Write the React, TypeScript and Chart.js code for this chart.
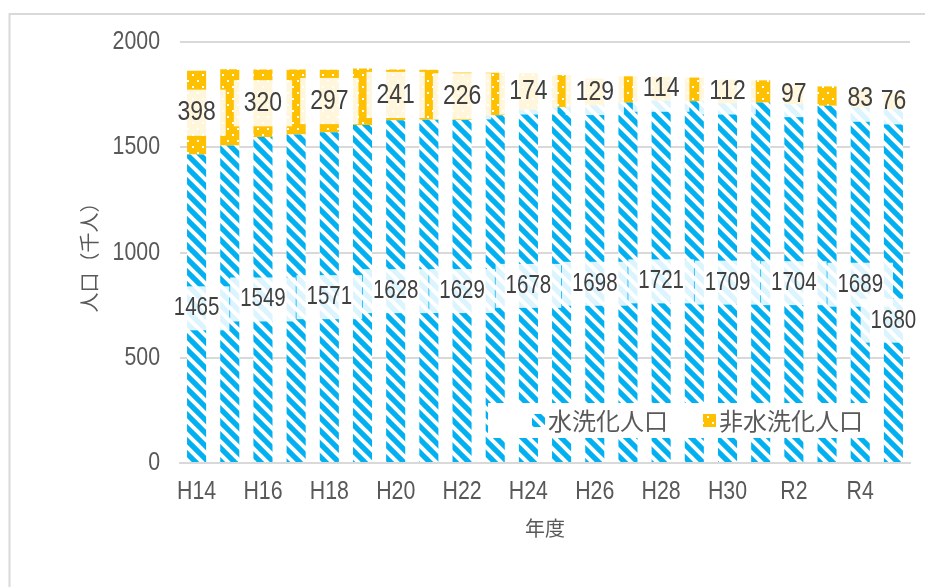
import React, { useEffect, useRef } from 'react';
import { Chart, registerables } from 'chart.js';

Chart.register(...registerables);

const years = [
  'H14', 'H15', 'H16', 'H17', 'H18', 'H19', 'H20', 'H21', 'H22', 'H23', 'H24',
  'H25', 'H26', 'H27', 'H28', 'H29', 'H30', 'R1', 'R2', 'R3', 'R4', 'R5',
];
const sewered = [
  1465, 1508, 1549, 1560, 1571, 1606, 1628, 1631, 1629, 1652, 1678,
  1690, 1698, 1712, 1721, 1718, 1709, 1712, 1704, 1697, 1689, 1680,
];
const unsewered = [
  398, 362, 320, 309, 297, 268, 241, 237, 226, 202, 174,
  153, 129, 125, 114, 113, 112, 106, 97, 92, 83, 76,
];
const seriesNames = ['水洗化人口', '非水洗化人口'];
const yMin = 0;
const yMax = 2000;
const yStep = 500;
const yTitle = '人口（千人）';
const xTitle = '年度';

const BLUE = '#00B0F0';
const ORANGE = '#FFC000';
const TEXT = '#595959';
const LABEL_TEXT = '#404040';
const GRID = '#d9d9d9';
const NUM_FONT = '"Liberation Sans", Arial, sans-serif';
const CJK_FONT = '"Noto Sans CJK JP", "Noto Sans", sans-serif';
const NARROW = 0.82;

function makeStripe(ctx: CanvasRenderingContext2D) {
  const s = 13;
  const c = document.createElement('canvas');
  c.width = s;
  c.height = s;
  const g = c.getContext('2d')!;
  g.fillStyle = BLUE;
  g.fillRect(0, 0, s, s);
  g.strokeStyle = '#ffffff';
  g.lineWidth = 4;
  g.beginPath();
  for (const k of [-s, 0, s]) {
    g.moveTo(k - 3, -3);
    g.lineTo(k + s + 3, s + 3);
  }
  g.stroke();
  return ctx.createPattern(c, 'repeat')!;
}

function makeDots(ctx: CanvasRenderingContext2D) {
  const w = 10;
  const h = 12;
  const c = document.createElement('canvas');
  c.width = w;
  c.height = h;
  const g = c.getContext('2d')!;
  g.fillStyle = ORANGE;
  g.fillRect(0, 0, w, h);
  g.fillStyle = '#ffffff';
  g.fillRect(2, 2, 2, 2);
  g.fillRect(7, 8, 2, 2);
  return ctx.createPattern(c, 'repeat')!;
}

function narrowText(ctx: CanvasRenderingContext2D, text: string, x: number, y: number, align: CanvasTextAlign) {
  ctx.save();
  ctx.translate(x, y);
  ctx.scale(NARROW, 1);
  ctx.textAlign = align;
  ctx.textBaseline = 'middle';
  ctx.fillText(text, 0, 0);
  ctx.restore();
}

const framePlugin = {
  id: 'frame',
  beforeDraw(chart: any) {
    const ctx = chart.ctx;
    ctx.save();
    ctx.strokeStyle = GRID;
    ctx.lineWidth = 2;
    ctx.beginPath();
    ctx.moveTo(9.5, chart.height);
    ctx.lineTo(9.5, 14);
    ctx.lineTo(chart.width, 14);
    ctx.stroke();
    ctx.restore();
  },
};

const tickPlugin = {
  id: 'narrowTicks',
  afterDraw(chart: any) {
    const ctx = chart.ctx;
    const area = chart.chartArea;
    const ys = chart.scales.y;
    const xs = chart.scales.x;
    ctx.save();
    ctx.fillStyle = TEXT;
    ctx.font = `26px ${NUM_FONT}`;
    ys.ticks.forEach((t: any) => {
      narrowText(ctx, String(t.value), area.left - 20, ys.getPixelForValue(t.value), 'right');
    });
    years.forEach((lab, i) => {
      if (i % 2 !== 0) return;
      narrowText(ctx, lab, xs.getPixelForValue(i), area.bottom + 29, 'center');
    });
    ctx.restore();
  },
};

const labelPlugin = {
  id: 'barLabels',
  afterDatasetsDraw(chart: any) {
    const ctx = chart.ctx;
    const n = years.length;
    const items: any[] = [];
    chart.data.datasets.forEach((ds: any, di: number) => {
      const meta = chart.getDatasetMeta(di);
      meta.data.forEach((el: any, i: number) => {
        if (!(i % 2 === 0 || i === n - 1)) return;
        const { x, y, base } = el.getProps(['x', 'y', 'base'], true);
        let cy = (y + base) / 2;
        if (di === 0 && i === n - 1) cy += 35;
        const fs = di === 0 ? 25 : 28;
        items.push({ x, cy, fs, text: String(ds.data[i]) });
      });
    });
    ctx.save();
    items.forEach((it) => {
      ctx.font = `${it.fs}px ${NUM_FONT}`;
      const w = ctx.measureText(it.text).width * NARROW;
      const bw = w + 20;
      const bh = it.fs * 0.72 + 26;
      ctx.fillStyle = 'rgba(255,255,255,0.86)';
      ctx.fillRect(it.x - bw / 2, it.cy - bh / 2, bw, bh);
    });
    ctx.fillStyle = LABEL_TEXT;
    items.forEach((it) => {
      ctx.font = `${it.fs}px ${NUM_FONT}`;
      narrowText(ctx, it.text, it.x, it.cy, 'center');
    });
    ctx.restore();
  },
};

const legendPlugin = {
  id: 'innerLegend',
  afterDraw(chart: any) {
    const ctx = chart.ctx;
    ctx.save();
    ctx.fillStyle = '#ffffff';
    ctx.fillRect(488, 403, 395, 35);
    ctx.font = `24px ${CJK_FONT}`;
    ctx.textBaseline = 'middle';
    ctx.textAlign = 'left';
    let x = 532;
    const cy = 420.5;
    chart.data.datasets.forEach((ds: any) => {
      ctx.fillStyle = ds.backgroundColor;
      ctx.fillRect(x, cy - 6.5, 13, 13);
      ctx.fillStyle = TEXT;
      ctx.fillText(ds.label, x + 16, cy);
      x += 16 + ctx.measureText(ds.label).width + 35;
    });
    ctx.restore();
  },
};

export default function App() {
  const ref = useRef<HTMLCanvasElement | null>(null);

  useEffect(() => {
    const canvas = ref.current!;
    const ctx = canvas.getContext('2d')!;
    const stripe = makeStripe(ctx);
    const dots = makeDots(ctx);
    const chart = new Chart(canvas, {
      type: 'bar',
      data: {
        labels: years,
        datasets: [
          {
            label: seriesNames[0],
            data: sewered,
            backgroundColor: stripe as any,
            borderWidth: 0,
            categoryPercentage: 1,
            barPercentage: 0.575,
          },
          {
            label: seriesNames[1],
            data: unsewered,
            backgroundColor: dots as any,
            borderWidth: 0,
            categoryPercentage: 1,
            barPercentage: 0.575,
          },
        ],
      },
      options: {
        responsive: false,
        animation: false,
        layout: { padding: { left: 0, right: 15, top: 42, bottom: 0 } },
        plugins: {
          legend: { display: false },
          tooltip: { enabled: false },
        },
        scales: {
          x: {
            stacked: true,
            grid: { display: false, drawTicks: false },
            border: { display: true, color: GRID, width: 2 },
            ticks: { display: false, autoSkip: false },
            title: {
              display: true,
              text: xTitle,
              color: TEXT,
              font: { family: CJK_FONT, size: 20 },
              padding: { top: 0, bottom: 47 },
            },
            afterFit: (s: any) => {
              s.height = 124;
            },
          },
          y: {
            stacked: true,
            min: yMin,
            max: yMax,
            grid: { color: GRID, lineWidth: 2, drawTicks: false },
            border: { display: false },
            ticks: { display: false, stepSize: yStep },
            title: {
              display: true,
              text: yTitle,
              color: TEXT,
              font: { family: CJK_FONT, size: 20 },
              padding: { top: 77, bottom: 0 },
            },
            afterFit: (s: any) => {
              s.width = 180;
            },
          },
        },
      },
      plugins: [framePlugin, tickPlugin, labelPlugin, legendPlugin],
    });
    return () => chart.destroy();
  }, []);

  return (
    <div style={{ position: 'absolute', left: 0, top: 0, width: 925, height: 587 }}>
      <canvas ref={ref} width={925} height={587} style={{ display: 'block' }} />
    </div>
  );
}
